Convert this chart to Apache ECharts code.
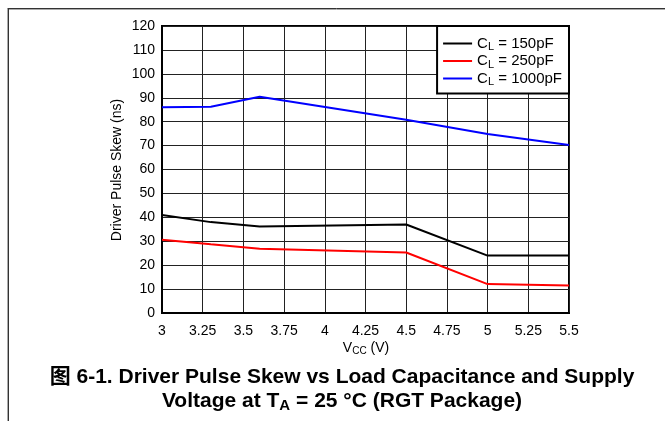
<!DOCTYPE html>
<html>
<head>
<meta charset="utf-8">
<script src="https://cdn.jsdelivr.net/npm/echarts@6/dist/echarts.min.js"></script>
<style>
html,body{margin:0;padding:0;background:#fff;}
#chart{width:665px;height:421px;}
</style>
</head>
<body>
<div id="chart"></div>
<script>
var vcc = [3, 3.3, 3.6, 4.5, 5, 5.5];
var skew150 = [41, 38, 36.2, 37, 24, 24];
var skew250 = [30.6, 28.7, 26.9, 25.3, 12.1, 11.5];
var skew1000 = [86, 86.2, 90.4, 80.8, 74.8, 70.2];
var seriesNames = ['CL = 150pF', 'CL = 250pF', 'CL = 1000pF'];
var legendLabels = {'CL = 150pF': '150pF', 'CL = 250pF': '250pF', 'CL = 1000pF': '1000pF'};
var colors = ['#000000', '#ff0000', '#0000ff'];
var xTicks = {min: 3, max: 5.5, step: 0.25};
var yTicks = {min: 0, max: 120, step: 10};

var FONT = '"Liberation Sans", Arial, "Noto Sans CJK SC", sans-serif';

function pairs(xs, ys) { return xs.map(function (x, i) { return [x, ys[i]]; }); }

var chart = echarts.init(document.getElementById('chart'), null, {renderer: 'canvas'});
var subRich = {
  a: {fontSize: 14, fontFamily: FONT, color: '#000'},
  s: {fontSize: 10, fontFamily: FONT, color: '#000', padding: [7, 0, 0, 0]}
};
var legRich = {
  a: {fontSize: 15, fontFamily: FONT, color: '#000'},
  s: {fontSize: 11, fontFamily: FONT, color: '#000', padding: [7, 0, 0, 0]}
};
var titleRich = {
  b: {fontSize: 21, fontWeight: 'bold', fontFamily: FONT, color: '#000'},
  s: {fontSize: 15, fontWeight: 'bold', fontFamily: FONT, color: '#000', padding: [9, 0, 0, 0]}
};

chart.setOption({
  animation: false,
  backgroundColor: '#fff',
  grid: {left: 162, top: 26, width: 407, height: 287, show: true, borderColor: '#000', borderWidth: 2, backgroundColor: 'transparent', containLabel: false},
  xAxis: {
    type: 'value', min: xTicks.min, max: xTicks.max, interval: xTicks.step,
    axisLine: {show: true, lineStyle: {color: '#000', width: 2}},
    axisTick: {show: false},
    axisLabel: {color: '#000', fontSize: 14, fontFamily: FONT, margin: 11},
    splitLine: {show: true, lineStyle: {color: '#222', width: 1}}
  },
  yAxis: {
    type: 'value', min: yTicks.min, max: yTicks.max, interval: yTicks.step,
    axisLine: {show: true, lineStyle: {color: '#000', width: 2}},
    axisTick: {show: false},
    axisLabel: {color: '#000', fontSize: 14, fontFamily: FONT, margin: 7},
    splitLine: {show: true, lineStyle: {color: '#222', width: 1}}
  },
  legend: {
    orient: 'vertical', right: 96, top: 26, z: 10,
    backgroundColor: '#fff', borderColor: '#000', borderWidth: 2,
    padding: [10, 7, 6, 6], itemGap: 1, itemWidth: 29, itemHeight: 2,
    icon: 'rect',
    data: seriesNames,
    formatter: function (name) { return '{a|C}{s|L}{a| = ' + legendLabels[name] + '}'; },
    textStyle: {rich: legRich, fontSize: 15, fontFamily: FONT}
  },
  series: [
    {name: seriesNames[0], type: 'line', data: pairs(vcc, skew150), symbol: 'none', lineStyle: {color: colors[0], width: 2}, itemStyle: {color: colors[0]}},
    {name: seriesNames[1], type: 'line', data: pairs(vcc, skew250), symbol: 'none', lineStyle: {color: colors[1], width: 2}, itemStyle: {color: colors[1]}},
    {name: seriesNames[2], type: 'line', data: pairs(vcc, skew1000), symbol: 'none', lineStyle: {color: colors[2], width: 2}, itemStyle: {color: colors[2]}}
  ],
  graphic: [
    {type: 'line', shape: {x1: 7.5, y1: 8.5, x2: 665, y2: 8.5}, style: {stroke: '#333', lineWidth: 1}},
    {type: 'line', shape: {x1: 8, y1: 9.5, x2: 665, y2: 9.5}, style: {stroke: '#aaa', lineWidth: 1}},
    {type: 'line', shape: {x1: 8.5, y1: 8, x2: 8.5, y2: 421}, style: {stroke: '#333', lineWidth: 1}},
    {type: 'line', shape: {x1: 7.5, y1: 9, x2: 7.5, y2: 421}, style: {stroke: '#aaa', lineWidth: 1}},
    {type: 'text', x: 117, y: 170, rotation: Math.PI / 2,
      style: {text: 'Driver Pulse Skew (ns)', fontSize: 14, fontFamily: FONT, fill: '#000', align: 'center', verticalAlign: 'middle'}},
    {type: 'text', x: 366, y: 348,
      style: {text: '{a|V}{s|CC}{a| (V)}', rich: subRich, fontSize: 14, fontFamily: FONT, fill: '#000', align: 'center', verticalAlign: 'middle'}},
    {type: 'text', x: 342, y: 377,
      style: {text: '{b|图 6-1. Driver Pulse Skew vs Load Capacitance and Supply}', rich: titleRich, align: 'center', verticalAlign: 'middle'}},
    {type: 'text', x: 342, y: 401,
      style: {text: '{b|Voltage at T}{s|A}{b| = 25 °C (RGT Package)}', rich: titleRich, align: 'center', verticalAlign: 'middle'}}
  ]
});
</script>
</body>
</html>
